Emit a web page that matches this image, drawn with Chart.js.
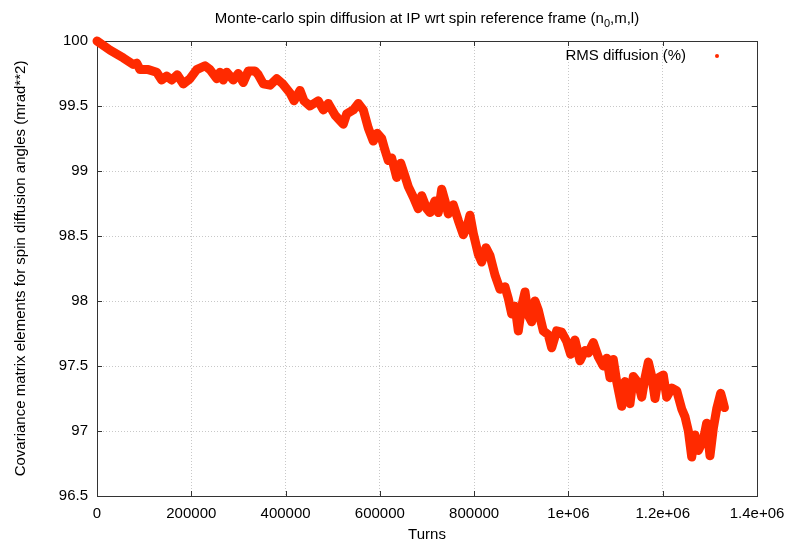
<!DOCTYPE html>
<html>
<head>
<meta charset="utf-8">
<script src="https://cdn.jsdelivr.net/npm/chart.js@4"></script>
<style>
  html, body { margin: 0; padding: 0; background: #fff; }
  #wrap { width: 806px; height: 544px; }
</style>
</head>
<body>
<div id="wrap"><canvas id="spinChart"></canvas></div>
<script>
// ---------------- Data ----------------
const turns = [
  0, 27600, 55800, 77000, 84200, 91200, 108800, 126600, 137200, 147800,
  158500, 170300, 183100, 197300, 211500, 229100, 239700, 253900, 260900, 267900,
  275100, 289100, 299700, 310300, 320900, 335100, 342200, 352800, 367000, 381200,
  393900, 409400, 417900, 430600, 439100, 451800, 469400, 480000, 490600, 504800,
  522500, 529600, 543700, 554300, 564900, 575500, 586100, 594600, 603900, 610900,
  617900, 625100, 635700, 644200, 653300, 660300, 670900, 681500, 688700, 699400,
  706300, 717000, 724000, 731200, 738200, 745200, 755800, 766400, 777000, 785500,
  791200, 798200, 808800, 816000, 825100, 833600, 844200, 854800, 865400, 872400,
  879700, 886700, 893700, 900900, 907900, 914900, 922100, 929100, 936100, 946700,
  957300, 964500, 975100, 985700, 996300, 1004800, 1013900, 1024500, 1035100, 1042200,
  1052700, 1063400, 1074000, 1081200, 1088200, 1095200, 1102400, 1113000, 1120000, 1130600,
  1137700, 1148200, 1155500, 1162500, 1169500, 1176700, 1183700, 1190700, 1201300, 1208500,
  1219100, 1229700, 1240300, 1247300, 1254400, 1261500, 1268500, 1275500, 1286100, 1293200,
  1300300, 1307300, 1314500, 1322900, 1326000, 1331000
];
const rmsDiffusion = [
  100.00, 99.93, 99.87, 99.82, 99.83, 99.78, 99.78, 99.76, 99.70, 99.73,
  99.70, 99.74, 99.67, 99.71, 99.78, 99.81, 99.78, 99.71, 99.76, 99.70,
  99.76, 99.70, 99.75, 99.68, 99.77, 99.77, 99.74, 99.67, 99.66, 99.71,
  99.67, 99.60, 99.54, 99.62, 99.54, 99.50, 99.54, 99.47, 99.52, 99.43,
  99.36, 99.44, 99.47, 99.52, 99.47, 99.33, 99.23, 99.29, 99.25, 99.16,
  99.08, 99.10, 98.95, 99.06, 98.96, 98.88, 98.80, 98.71, 98.81, 98.71,
  98.68, 98.77, 98.68, 98.86, 98.77, 98.67, 98.74, 98.62, 98.51, 98.58,
  98.66, 98.52, 98.36, 98.30, 98.41, 98.35, 98.20, 98.09, 98.11, 98.02,
  97.90, 97.96, 97.77, 97.96, 98.07, 97.89, 97.84, 98.00, 97.93, 97.77,
  97.74, 97.64, 97.77, 97.76, 97.69, 97.59, 97.70, 97.54, 97.62, 97.60,
  97.68, 97.57, 97.50, 97.56, 97.41, 97.55, 97.38, 97.19, 97.38, 97.21,
  97.42, 97.37, 97.26, 97.41, 97.53, 97.42, 97.25, 97.41, 97.43, 97.26,
  97.33, 97.31, 97.17, 97.11, 97.00, 96.80, 96.97, 96.85, 96.93, 97.06,
  96.81, 97.02, 97.17, 97.29, 97.25, 97.18
];

const xTickValues = [0, 200000, 400000, 600000, 800000, 1000000, 1200000, 1400000];
const xTickLabels = ["0", "200000", "400000", "600000", "800000", "1e+06", "1.2e+06", "1.4e+06"];
const yTickValues = [96.5, 97, 97.5, 98, 98.5, 99, 99.5, 100];
const yTickLabels = ["96.5", "97", "97.5", "98", "98.5", "99", "99.5", "100"];

const seriesLabel = "RMS diffusion (%)";
const FONT = "'Liberation Sans', Arial, Helvetica, sans-serif";
const RED = "#ff2a00";

// ---------------- Plugins ----------------
// gnuplot style frame with inward ticks on all four sides
const framePlugin = {
  id: "frame",
  beforeDatasetsDraw(chart) {
    const { ctx, chartArea: a, scales } = chart;
    ctx.save();
    ctx.strokeStyle = "#333";
    ctx.lineWidth = 1;
    ctx.beginPath();
    xTickValues.forEach(v => {
      const px = Math.round(scales.x.getPixelForValue(v)) + 0.5;
      ctx.moveTo(px, a.bottom); ctx.lineTo(px, a.bottom - 5);
      ctx.moveTo(px, a.top); ctx.lineTo(px, a.top + 5);
    });
    yTickValues.forEach(v => {
      const py = Math.round(scales.y.getPixelForValue(v)) + 0.5;
      ctx.moveTo(a.left, py); ctx.lineTo(a.left + 5, py);
      ctx.moveTo(a.right, py); ctx.lineTo(a.right - 5, py);
    });
    ctx.stroke();
    ctx.strokeRect(Math.round(a.left) + 0.5, Math.round(a.top) + 0.5,
      Math.round(a.right - a.left), Math.round(a.bottom - a.top));
    ctx.restore();
  }
};

// title with subscript n_0
const titlePlugin = {
  id: "gpTitle",
  afterDraw(chart) {
    const { ctx, chartArea: a } = chart;
    const parts = [
      { t: "Monte-carlo spin diffusion at IP wrt spin reference frame (n", size: 15, dy: 0 },
      { t: "0", size: 11, dy: 4 },
      { t: ",m,l)", size: 15, dy: 0 }
    ];
    ctx.save();
    ctx.fillStyle = "#000";
    ctx.textBaseline = "alphabetic";
    let total = 0;
    parts.forEach(p => { ctx.font = p.size + "px " + FONT; p.w = ctx.measureText(p.t).width; total += p.w; });
    let x = (a.left + a.right) / 2 - total / 2;
    parts.forEach(p => {
      ctx.font = p.size + "px " + FONT;
      ctx.fillText(p.t, x, 23 + p.dy);
      x += p.w;
    });
    ctx.restore();
  }
};

// key in the top right corner
const keyPlugin = {
  id: "gpKey",
  afterDraw(chart) {
    const { ctx, chartArea: a } = chart;
    ctx.save();
    ctx.font = "15px " + FONT;
    ctx.fillStyle = "#000";
    ctx.textAlign = "right";
    ctx.textBaseline = "middle";
    ctx.fillText(seriesLabel, a.right - 71, a.top + 15);
    ctx.fillStyle = RED;
    ctx.beginPath();
    ctx.arc(a.right - 40, a.top + 15, 2, 0, Math.PI * 2);
    ctx.fill();
    ctx.restore();
  }
};

// ---------------- Chart ----------------
const ctx = document.getElementById("spinChart").getContext("2d");
new Chart(ctx, {
  type: "line",
  data: {
    datasets: [{
      label: seriesLabel,
      data: turns.map((t, i) => ({ x: t, y: rmsDiffusion[i] })),
      borderColor: RED,
      backgroundColor: RED,
      borderWidth: 9,
      borderJoinStyle: "round",
      borderCapStyle: "round",
      pointRadius: 0,
      tension: 0,
      clip: false
    }]
  },
  options: {
    responsive: true,
    maintainAspectRatio: false,
    animation: false,
    events: [],
    layout: { padding: { top: 41, right: 49, left: 0, bottom: 0 } },
    plugins: {
      legend: { display: false },
      tooltip: { enabled: false }
    },
    scales: {
      x: {
        type: "linear",
        min: 0,
        max: 1400000,
        afterFit: s => { s.height = 48; },
        afterBuildTicks: s => { s.ticks = xTickValues.map(v => ({ value: v })); },
        ticks: {
          padding: 9,
          color: "#000",
          font: { family: FONT, size: 15 },
          maxRotation: 0,
          callback: (v, i) => xTickLabels[i]
        },
        grid: {
          drawTicks: false,
          color: "#c8c8c8",
          lineWidth: 1
        },
        border: { display: false, dash: [1, 2] },
        title: {
          display: true,
          text: "Turns",
          color: "#000",
          font: { family: FONT, size: 15 },
          padding: { top: 0, bottom: 0 }
        }
      },
      y: {
        type: "linear",
        min: 96.5,
        max: 100,
        afterFit: s => { s.width = 97; },
        afterBuildTicks: s => { s.ticks = yTickValues.map(v => ({ value: v })); },
        ticks: {
          padding: 9,
          color: "#000",
          font: { family: FONT, size: 15 },
          callback: (v, i) => yTickLabels[i]
        },
        grid: {
          drawTicks: false,
          color: "#c8c8c8",
          lineWidth: 1
        },
        border: { display: false, dash: [1, 2] },
        title: {
          display: true,
          text: "Covariance matrix elements for spin diffusion angles (mrad**2)",
          color: "#000",
          font: { family: FONT, size: 15 },
          padding: { top: 12, bottom: 0 }
        }
      }
    }
  },
  plugins: [framePlugin, titlePlugin, keyPlugin]
});
</script>
</body>
</html>
